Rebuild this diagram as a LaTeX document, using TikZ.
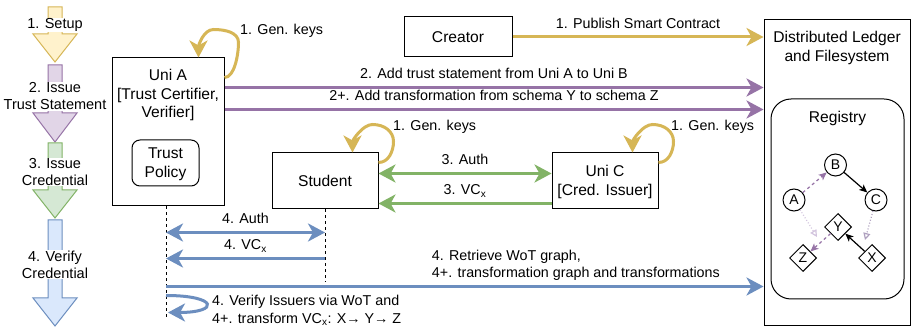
\documentclass[tikz,border=0pt]{standalone}
\usepackage{fontspec}
\setmainfont{Liberation Sans}
\usetikzlibrary{arrows.meta,calc,shapes.geometric}
\definecolor{ylS}{HTML}{D6B656}\definecolor{ylF}{HTML}{FFF2CC}
\definecolor{puS}{HTML}{9673A6}\definecolor{puF}{HTML}{E1D5E7}
\definecolor{grS}{HTML}{82B366}\definecolor{grF}{HTML}{D5E8D4}
\definecolor{blS}{HTML}{6C8EBF}\definecolor{blF}{HTML}{DAE8FC}
\definecolor{dotA}{HTML}{D2C4DE}\definecolor{dotC}{HTML}{AE9FBE}
\newcommand\bxf{\fontsize{15.6}{18.6}\selectfont}
\newcommand\lbf{\fontsize{14.3}{17.8}\selectfont}
\newcommand\sdf{\fontsize{14.5}{17}\selectfont}
\newcommand\grf{\fontsize{14}{16}\selectfont}
\newcommand\sidearr[5]{\filldraw[fill=#4, draw=#5, line width=1pt] (48,#1) -- (62,#1) -- (62,#2) -- (77,#2) -- (55,#3) -- (33,#2) -- (48,#2) -- cycle;}
\newcommand\keyloop[2]{\draw[flow, #2] ($(#1.north east)+(0,10)$) .. controls +(10,0) and +(0,10) .. ($(#1.north east)+(15,-11)$) .. controls +(0,-10) and +(12,0) .. ($(#1.north east)+(-6,-28)$) .. controls +(-10,0) and +(0,-12) .. ($(#1.north east)+(-26,0)$);}
\tikzset{bigtip/.tip={Stealth[length=17pt,width=18pt,inset=5pt]},
  smalltip/.tip={Stealth[length=8pt,width=7pt,inset=2pt]},
  opentip/.tip={Triangle[open,length=7pt,width=7pt]}}
\begin{document}
\begin{tikzpicture}[x=1pt,y=-1pt,
  box/.style={draw=black, line width=1pt, fill=white, inner sep=0pt},
  txt/.style={font=\bxf, align=center, inner sep=0pt},
  lbl/.style={font=\lbf, align=center, inner sep=0pt, text depth=3pt, text=black},
  side/.style={font=\sdf, align=center, inner sep=0.5pt, fill=white},
  flow/.style={line width=3pt, -bigtip},
  flowtwo/.style={line width=3pt, bigtip-bigtip},
  life/.style={line width=1pt, dash pattern=on 3pt off 3pt},
  circ/.style={draw, circle, line width=1pt, minimum size=22pt, inner sep=0pt, font=\grf, fill=white},
  dia/.style={draw, diamond, line width=1pt, minimum width=27pt, minimum height=27pt, inner sep=0pt, font=\grf, fill=white},
  regdash/.style={line width=1.2pt, dash pattern=on 3pt off 3pt, -smalltip},
  regsolid/.style={line width=1.2pt, -smalltip},
  regdot/.style={line width=1.2pt, dash pattern=on 1pt off 2pt, -opentip}]
\useasboundingbox[fill=white] (0,0) rectangle (912,328);
% sidebar
\sidearr{7}{34}{62}{ylF}{ylS}
\sidearr{65}{113}{142}{puF}{puS}
\sidearr{143}{190}{218}{grF}{grS}
\sidearr{220}{298}{326}{blF}{blS}
\node[side] (s1) at (55,25) {1. Setup};
\node[side] (s2) at (55,96.5) {2. Issue\\Trust Statement};
\node[side] (s3) at (55,172) {3. Issue\\Credential};
\node[side] (s4) at (55,264.5) {4. Verify\\Credential};
% boxes
\node[box, minimum width=112pt, minimum height=148pt] (unia) at (168,132) {};
\node[txt] (unialbl) at (168,95) {Uni A\\{[}Trust Certifier,\\Verifier{]}};
\node[box, rounded corners=8pt, minimum width=67pt, minimum height=46pt] (policy) at (165.5,163) {};
\node[txt] (policylbl) at (165.5,164) {Trust\\Policy};
\node[box, minimum width=108pt, minimum height=40pt, font=\bxf] (creator) at (458,37) {Creator};
\node[box, minimum width=146pt, minimum height=305pt] (ledger) at (837,172.5) {};
\node[txt] (ledgerlbl) at (837,48) {Distributed Ledger\\and Filesystem};
\node[box, rounded corners=20pt, minimum width=133pt, minimum height=200pt] (registry) at (837.5,199) {};
\node[txt] (registrylbl) at (837.5,118) {Registry};
\node[box, minimum width=106pt, minimum height=56pt, font=\bxf] (student) at (325,181) {Student};
\node[box, minimum width=106pt, minimum height=56pt] (unic) at (605,181) {};
\node[txt] (uniclbl) at (605,182) {Uni C\\{[}Cred. Issuer{]}};
% gen keys loops
\draw[flow, ylS] ($(unia.north east)+(0,20)$) .. controls +(10,0) and +(0,12) .. ($(unia.north east)+(14,-15)$) .. controls +(0,-10) and +(12,0) .. ($(unia.north east)+(-11,-28)$) .. controls +(-10,0) and +(0,-12) .. ($(unia.north east)+(-26,0)$);
\node[lbl, anchor=west] (gk1) at (240,31) {1. Gen. keys};
\keyloop{student}{ylS}
\node[lbl, anchor=west] (gk2) at (393,127) {1. Gen. keys};
\keyloop{unic}{ylS}
\node[lbl, anchor=west] (gk3) at (671,127) {1. Gen. keys};
% setup
\draw[flow, ylS] (creator.east) -- (creator.east -| ledger.west) node[lbl, midway, above=4pt] {1. Publish Smart Contract};
% trust statements
\coordinate (t1) at ($(unia.north east)+(0,30)$);
\coordinate (t2) at ($(unia.north east)+(0,52)$);
\draw[flow, puS] (t1) -- (t1 -| ledger.west) node[lbl, midway, above=4pt] {2. Add trust statement from Uni A to Uni B};
\draw[flow, puS] (t2) -- (t2 -| ledger.west) node[lbl, midway, above=4pt] {2+. Add transformation from schema Y to schema Z};
% issue credential
\coordinate (g1) at ($(student.north east)+(0,21)$);
\coordinate (g2) at ($(student.north east)+(0,51)$);
\draw[flowtwo, grS] (g1) -- (g1 -| unic.west) node[lbl, midway, above=4pt] {3. Auth};
\draw[flow, grS] (g2 -| unic.west) -- (g2) node[lbl, midway, above=4pt] {3. VC\textsubscript{x}};
% verify
\coordinate (laT) at ($(unia.south)+(-2,0)$);
\coordinate (laB) at ($(laT)+(0,110)$);
\coordinate (lsT) at (student.south);
\coordinate (lsB) at ($(lsT)+(0,73)$);
\draw[life] (laT) -- (laB);
\draw[life] (lsT) -- (lsB);
\coordinate (b1) at ($(laT)+(0,26)$);
\coordinate (b2) at ($(laT)+(0,52)$);
\coordinate (b3) at ($(laT)+(0,80)$);
\coordinate (b4) at ($(laT)+(0,89)$);
\coordinate (b5) at ($(laT)+(2,106)$);
\draw[flowtwo, blS] (b1) -- (b1 -| lsT) node[lbl, midway, above=4pt] {4. Auth};
\draw[flow, blS] (b2 -| lsT) -- (b2) node[lbl, midway, above=4pt] {4. VC\textsubscript{x}};
\draw[flow, blS] (b3) -- (b3 -| ledger.west) node[lbl, pos=0.686, above=4pt, align=left] {4. Retrieve WoT graph,\\4+. transformation graph and transformations};
\draw[flow, blS] (b4) .. controls +(52,0) and +(52,0) .. (b5);
\node[lbl, anchor=west, align=left] (verlbl) at (212,311) {4. Verify Issuers via WoT and\\4+. transform VC\textsubscript{x}: X→ Y→ Z};
% registry graph
\node[circ] (nB) at (835.5,165) {B};
\node[circ] (nA) at (794,200) {A};
\node[circ] (nC) at (876,200) {C};
\node[dia] (nY) at (838,227) {Y};
\node[dia] (nZ) at (803,258) {Z};
\node[dia] (nX) at (872,258) {X};
\coordinate (ta) at (817,237);
\coordinate (tc) at (865,240);
\draw[regdot, dotA] (nA) -- (ta);
\draw[regdot, dotC] (nC) -- (tc);
\draw[regdash, puS] (nA) -- (nB);
\draw[regsolid] (nB) -- (nC);
\draw[regdash, puS] (nY) -- (nZ);
\draw[regsolid] (nX) -- (nY);
\end{tikzpicture}
\end{document}
